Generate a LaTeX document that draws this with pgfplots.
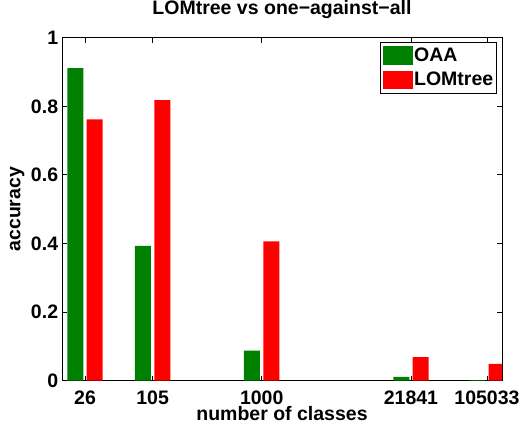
\documentclass[border=0pt]{standalone}
\usepackage{pgfplots}
\pgfplotsset{compat=1.18}
\usepackage{fontspec}
\setmainfont{Liberation Sans}
\definecolor{oaagreen}{RGB}{0,128,0}
\definecolor{lomred}{RGB}{255,0,0}
\newcommand{\cf}{\bfseries\fontsize{19.5}{22}\selectfont}
\begin{document}
\begin{tikzpicture}
\useasboundingbox (-62pt,-42.3pt) rectangle (458pt,380.7pt);
\begin{axis}[
  at={(0pt,0pt)}, anchor=south west,
  scale only axis, width=440pt, height=343pt,
  xmode=log, xmin=16.16, xmax=143220,
  ymin=0, ymax=1,
  xtick={26,105,1000,21841,105033},
  xticklabels={26,105,1000,21841,105033},
  ytick={0,0.2,0.4,0.6,0.8,1},
  yticklabels={0,0.2,0.4,0.6,0.8,1},
  xminorticks=false, yminorticks=false,
  /pgf/number format/assume math mode=true,
  tick align=inside, major tick length=5pt,
  axis line style={line width=0.9pt},
  every tick/.style={black, line width=0.9pt},
  tick label style={font=\cf},
  xticklabel style={anchor=base, inner sep=0pt, yshift=-23.6pt},
  yticklabel style={anchor=east, inner sep=0pt, xshift=-3.7pt},
  title={LOMtree vs one−against−all},
  title style={font=\cf, inner sep=0pt, at={(axis description cs:0.5,1.0496)}, anchor=base},
  xlabel={number of classes},
  xlabel style={font=\cf, inner sep=0pt, at={(axis description cs:0.5,-0.116)}, anchor=base},
  ylabel={accuracy},
  ylabel style={font=\cf, inner sep=0pt, at={(axis description cs:-0.0948,0.5)}, anchor=base, rotate=0},
  legend style={font=\cf, draw=black, line width=0.9pt,
    at={(axis description cs:1,1)}, anchor=north east, xshift=-4.7pt, yshift=-4pt,
    inner xsep=2pt, inner ysep=4.3pt, row sep=6pt,
    nodes={inner xsep=1.6pt, inner ysep=0pt}},
  legend cell align=left,
]
\addplot[ybar, bar width=16pt, bar shift=-9.7pt, fill=oaagreen, draw=none,
  legend image code/.code={\fill[oaagreen] (0pt,-9.15pt) rectangle (30pt,9.15pt);}]
  coordinates {(26,0.911) (105,0.393) (1000,0.0875) (21841,0.011) (105033,0.002)};
\addplot[ybar, bar width=16pt, bar shift=9.7pt, fill=lomred, draw=none,
  legend image code/.code={\fill[lomred] (0pt,-9.15pt) rectangle (30pt,9.15pt);}]
  coordinates {(26,0.762) (105,0.818) (1000,0.406) (21841,0.069) (105033,0.0487)};
\legend{OAA,LOMtree}
\end{axis}
\end{tikzpicture}
\end{document}
